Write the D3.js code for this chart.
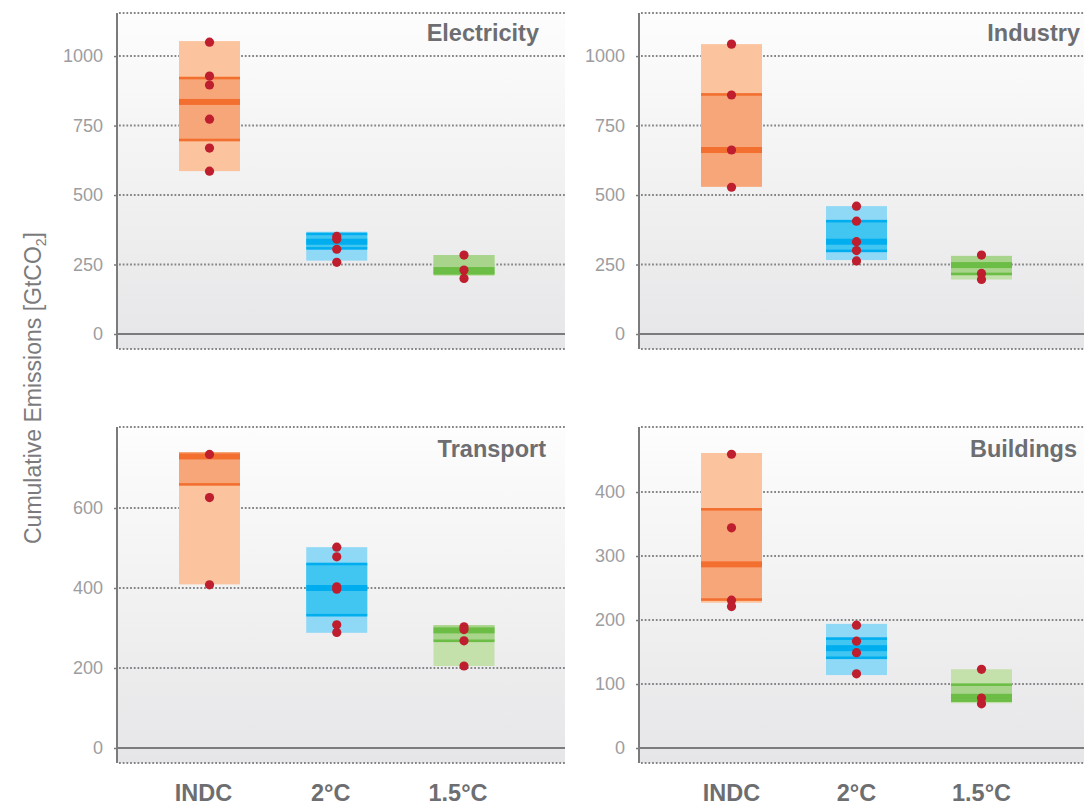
<!DOCTYPE html>
<html>
<head>
<meta charset="utf-8">
<script src="https://cdn.jsdelivr.net/npm/d3@7/dist/d3.min.js"></script>
<style>
  html, body { margin: 0; padding: 0; background: #ffffff; }
  svg { display: block; }
</style>
</head>
<body>
<svg id="chart" width="1084" height="805"></svg>
<script>
// ---------------- DATA ----------------
const sectors = ["Electricity", "Industry", "Transport", "Buildings"];
const scenarios = ["INDC", "2°C", "1.5°C"];

// per sector: [INDC, 2°C, 1.5°C]
const minVals = [[586, 264, 209], [530, 266, 196], [409, 288, 205], [227, 114, 70]];
const q1Vals  = [[698, 308, 218], [530, 299, 216], [659, 332, 268], [232, 141, 74]];
const medVals = [[835, 332, 230], [662, 332, 248], [729, 400, 294], [287, 156, 80]];
const q3Vals  = [[921, 360, 284], [862, 406, 281], [740, 460, 307], [373, 171, 99]];
const maxVals = [[1054, 368, 284], [1043, 460, 281], [740, 502, 307], [461, 194, 123]];

// individual model points per sector, per scenario
const pointsElectricity = [[1050, 928, 896, 773, 669, 586], [351, 341, 305, 258], [284, 230, 200]];
const pointsIndustry    = [[1043, 860, 662, 528], [460, 406, 332, 300, 263], [284, 218, 196]];
const pointsTransport   = [[734, 626, 408], [502, 478, 403, 397, 308, 289], [303, 296, 268, 205]];
const pointsBuildings   = [[459, 344, 231, 221], [192, 167, 149, 116], [123, 78, 69]];
const pointSets = [pointsElectricity, pointsIndustry, pointsTransport, pointsBuildings];

// y-axis tick labels
const ticksElectricity = [0, 250, 500, 750, 1000];
const ticksIndustry    = [0, 250, 500, 750, 1000];
const ticksTransport   = [0, 200, 400, 600];
const ticksBuildings   = [0, 100, 200, 300, 400];
const tickSets = [ticksElectricity, ticksIndustry, ticksTransport, ticksBuildings];

// visible axis extents (values at the bottom / top edge of each panel)
const yDomains = [[-54, 1155], [-54, 1155], [-37.5, 802.5], [-23.4, 501.6]];

const yLabel = "Cumulative Emissions [GtCO";
const yLabelSub = "2";

// ---------------- STYLE / LAYOUT ----------------
const colors = {
  light:  ["#fbc49e", "#8fd8f6", "#c4e0ab"],
  medium: ["#f7a679", "#41c6f2", "#a8d48b"],
  dark:   ["#f36f2f", "#00aeef", "#6cbd45"]
};
const pointColor = "#be1e2d";
const axisColor = "#7b7b7d";
const gridColor = "#858587";

const layout = [
  { x: 117, y: 13,  w: 448, h: 336, titleX: 539,  titleY: 41,  xr: [209.5, 464] },
  { x: 639, y: 13,  w: 470, h: 336, titleX: 1080, titleY: 41,  xr: [731.5, 981.5] },
  { x: 117, y: 427, w: 448, h: 336, titleX: 546,  titleY: 457, xr: [209.5, 464] },
  { x: 639, y: 427, w: 470, h: 336, titleX: 1077, titleY: 457, xr: [731.5, 981.5] }
];
const boxW = 61;

const svg = d3.select("#chart");
const defs = svg.append("defs");
const grad = defs.append("linearGradient")
  .attr("id", "bg").attr("x1", 0).attr("y1", 0).attr("x2", 0).attr("y2", 1);
grad.append("stop").attr("offset", "0%").attr("stop-color", "#fdfdfd");
grad.append("stop").attr("offset", "100%").attr("stop-color", "#e6e6e8");

sectors.forEach((sector, i) => {
  const L = layout[i];
  const g = svg.append("g");
  const y = d3.scaleLinear().domain(yDomains[i]).range([L.y + L.h, L.y]);
  const x = d3.scalePoint().domain(scenarios).range(L.xr);
  const x0 = L.x, x1 = L.x + L.w;

  // background
  g.append("rect").attr("x", x0).attr("y", L.y).attr("width", L.w).attr("height", L.h)
    .attr("fill", "url(#bg)");

  // dotted grid lines (ticks except 0, plus top/bottom edges)
  const gridVals = tickSets[i].filter(v => v !== 0).concat(yDomains[i]);
  g.selectAll("line.grid").data(gridVals).enter().append("line")
    .attr("class", "grid")
    .attr("x1", x0 + 2).attr("x2", x1)
    .attr("y1", d => y(d)).attr("y2", d => y(d))
    .attr("stroke", gridColor).attr("stroke-width", 2)
    .attr("stroke-dasharray", "1.8 1.9");

  // y axis
  const axis = d3.axisLeft(y).tickValues(tickSets[i]).tickSize(3).tickPadding(11)
    .tickFormat(d3.format("d"));
  const ag = g.append("g").attr("transform", `translate(${x0},0)`).call(axis);
  ag.select(".domain").remove();
  ag.selectAll(".tick line").attr("stroke", axisColor).attr("stroke-width", 1.5);
  ag.selectAll(".tick text")
    .attr("fill", "#9d9d9f").attr("font-size", 18)
    .attr("font-family", "'Liberation Sans', Arial, sans-serif");
  g.append("line").attr("x1", x0).attr("x2", x0).attr("y1", L.y).attr("y2", L.y + L.h)
    .attr("stroke", axisColor).attr("stroke-width", 2);

  // zero line
  g.append("line").attr("x1", x0).attr("x2", x1).attr("y1", y(0)).attr("y2", y(0))
    .attr("stroke", axisColor).attr("stroke-width", 2);

  // boxes
  scenarios.forEach((s, j) => {
    const cx = x(s);
    const bx = cx - boxW / 2;
    g.append("rect").attr("x", bx).attr("width", boxW)
      .attr("y", y(maxVals[i][j])).attr("height", y(minVals[i][j]) - y(maxVals[i][j]))
      .attr("fill", colors.light[j]);
    g.append("rect").attr("x", bx).attr("width", boxW)
      .attr("y", y(q3Vals[i][j])).attr("height", y(q1Vals[i][j]) - y(q3Vals[i][j]))
      .attr("fill", colors.medium[j]);
    // thin quartile lines where they are distinct from the range ends
    const qLines = [];
    if (q1Vals[i][j] > minVals[i][j]) qLines.push(q1Vals[i][j]);
    if (q3Vals[i][j] < maxVals[i][j]) qLines.push(q3Vals[i][j]);
    qLines.forEach(v => {
      g.append("rect").attr("x", bx).attr("width", boxW)
        .attr("y", y(v) - 1.3).attr("height", 2.6).attr("fill", colors.dark[j]);
    });
    // median
    g.append("rect").attr("x", bx).attr("width", boxW)
      .attr("y", y(medVals[i][j]) - 3).attr("height", 6).attr("fill", colors.dark[j]);
    // points
    g.selectAll(null).data(pointSets[i][j]).enter().append("circle")
      .attr("cx", cx).attr("cy", d => y(d)).attr("r", 4.6).attr("fill", pointColor);
  });

  // title
  g.append("text").attr("x", L.titleX).attr("y", L.titleY)
    .attr("text-anchor", "end").attr("font-size", 23.5).attr("font-weight", "bold")
    .attr("font-family", "'Liberation Sans', Arial, sans-serif")
    .attr("fill", "#6d6e71").text(sector);

  // category labels under bottom panels
  if (i >= 2) {
    g.selectAll(null).data(scenarios).enter().append("text")
      .attr("x", d => x(d) - (i === 2 ? 6 : 0)).attr("y", 801)
      .attr("text-anchor", "middle").attr("font-size", 23.5).attr("font-weight", "bold")
      .attr("font-family", "'Liberation Sans', Arial, sans-serif")
      .attr("fill", "#6d6e71").text(d => d);
  }
});

// y axis label
const yl = svg.append("text")
  .attr("transform", "translate(41,388) rotate(-90)")
  .attr("text-anchor", "middle").attr("font-size", 23)
  .attr("font-family", "'Liberation Sans', Arial, sans-serif")
  .attr("fill", "#7b7b7d");
yl.append("tspan").text(yLabel);
yl.append("tspan").attr("font-size", 14).attr("dy", 5).text(yLabelSub);
yl.append("tspan").attr("dy", -5).text("]");
</script>
</body>
</html>
